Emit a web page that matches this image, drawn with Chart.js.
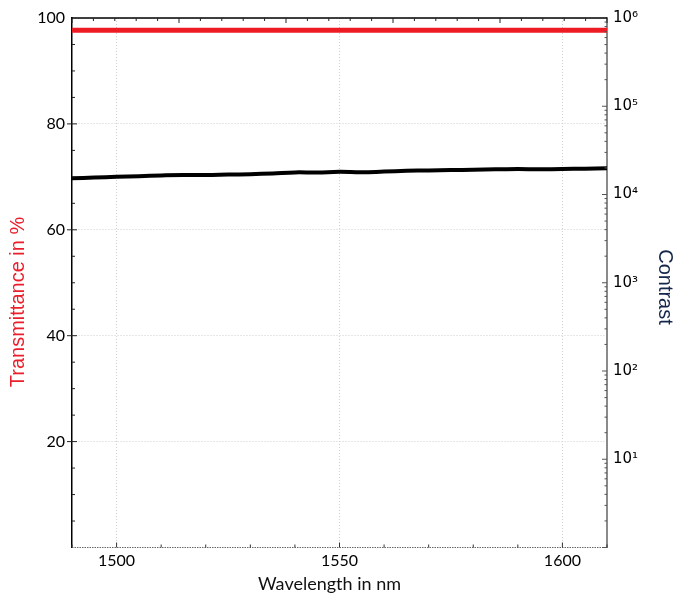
<!DOCTYPE html>
<html><head><meta charset="utf-8">
<script src="https://cdn.jsdelivr.net/npm/chart.js@4"></script>
<style>html,body{margin:0;padding:0;background:#fff;} canvas{display:block}</style>
</head><body>
<canvas id="c" width="674" height="593" style="width:674px;height:593px"></canvas>
<script>
const wavelength = [1490,1495,1500,1505,1510,1515,1520,1525,1530,1535,1540,1545,1550,1555,1560,1565,1570,1575,1580,1585,1590,1595,1600,1605,1610];
const transmittance = [97.7,97.7,97.7,97.7,97.7,97.7,97.7,97.7,97.7,97.7,97.7,97.7,97.7,97.7,97.7,97.7,97.7,97.7,97.7,97.7,97.7,97.7,97.7,97.7,97.7];
const contrast = [15260,15550,15900,16150,16450,16650,16600,16800,17000,17350,17800,17750,18050,17850,18200,18550,18750,18900,19100,19300,19400,19350,19450,19600,19820];
const xTicks = [1500,1550,1600];
const yTicks = [20,40,60,80,100];
const y1Ticks = [10,100,1000,10000,100000,1000000];
const supDigits = ['⁰','¹','²','³','⁴','⁵','⁶'];

const FONT = 'Lato, "Open Sans", sans-serif';
const TFONT = '"Liberation Sans", Arial, sans-serif';

const deco = {
  id: 'deco',
  afterDraw(chart) {
    const {ctx, chartArea: a, scales} = chart;
    const sx = scales.x, sy = scales.y, sy1 = scales.y1;
    ctx.save();
    // top border
    ctx.strokeStyle = '#000'; ctx.lineWidth = 1.5;
    ctx.beginPath(); ctx.moveTo(a.left - 0.7, a.top); ctx.lineTo(a.right, a.top); ctx.stroke();
    // bottom dotted border
    ctx.strokeStyle = '#666'; ctx.lineWidth = 1.2; ctx.setLineDash([1.5, 1]);
    ctx.beginPath(); ctx.moveTo(a.left, a.bottom); ctx.lineTo(a.right, a.bottom); ctx.stroke();
    ctx.setLineDash([]);
    // bottom ticks
    ctx.strokeStyle = '#333'; ctx.lineWidth = 1;
    for (let v = 1490; v <= 1610; v += 10) {
      const px = sx.getPixelForValue(v);
      const len = xTicks.includes(v) ? 5 : 3;
      ctx.beginPath(); ctx.moveTo(px, a.bottom); ctx.lineTo(px, a.bottom - len); ctx.stroke();
    }
    // top ticks
    ctx.strokeStyle = '#222';
    for (let k = 0; k <= 25; k++) {
      const v = 1490 + k * 4.8;
      if (v > 1610) break;
      const px = sx.getPixelForValue(v);
      const len = (k % 5 === 0) ? 5 : 3;
      ctx.beginPath(); ctx.moveTo(px, a.top); ctx.lineTo(px, a.top + len); ctx.stroke();
    }
    // left ticks
    ctx.strokeStyle = '#222';
    for (let v = 5; v < 100; v += 5) {
      const py = sy.getPixelForValue(v);
      if (yTicks.includes(v)) {
        ctx.beginPath(); ctx.moveTo(a.left - 5, py); ctx.lineTo(a.left + 5, py); ctx.stroke();
      } else {
        ctx.beginPath(); ctx.moveTo(a.left, py); ctx.lineTo(a.left + 3, py); ctx.stroke();
      }
    }
    // right ticks (log)
    ctx.strokeStyle = '#555';
    for (let e = 0; e < 6; e++) {
      for (let m = 1; m <= 9; m++) {
        const v = m * Math.pow(10, e);
        const py = sy1.getPixelForValue(v);
        const len = m === 1 ? 5 : 2.5;
        ctx.beginPath(); ctx.moveTo(a.right, py); ctx.lineTo(a.right - len, py); ctx.stroke();
      }
    }
    // titles
    ctx.fillStyle = '#111';
    ctx.font = '18px ' + FONT;
    ctx.textAlign = 'center'; ctx.textBaseline = 'alphabetic';
    ctx.fillText('Wavelength in nm', 329.5, 590);

    ctx.save();
    ctx.translate(18, 302); ctx.rotate(-Math.PI / 2);
    ctx.fillStyle = '#ea1f2b'; ctx.font = '20px ' + TFONT;
    ctx.textAlign = 'center'; ctx.textBaseline = 'middle';
    ctx.fillText('Transmittance in %', 0, 0);
    ctx.restore();

    ctx.save();
    ctx.translate(664.5, 287); ctx.rotate(Math.PI / 2);
    ctx.fillStyle = '#14264a'; ctx.font = '20px ' + TFONT;
    ctx.textAlign = 'center'; ctx.textBaseline = 'middle';
    ctx.fillText('Contrast', 0, 0);
    ctx.restore();

    ctx.restore();
  }
};

new Chart(document.getElementById('c'), {
  type: 'line',
  data: {
    labels: wavelength,
    datasets: [
      {
        label: 'Transmittance',
        data: wavelength.map((w, i) => ({x: w, y: transmittance[i]})),
        yAxisID: 'y',
        borderColor: '#ed1c24',
        borderWidth: 5,
        pointRadius: 0,
        borderCapStyle: 'round'
      },
      {
        label: 'Contrast',
        data: wavelength.map((w, i) => ({x: w, y: contrast[i]})),
        yAxisID: 'y1',
        borderColor: '#000',
        borderWidth: 4,
        pointRadius: 0,
        tension: 0.4,
        borderCapStyle: 'round'
      }
    ]
  },
  options: {
    responsive: false,
    animation: false,
    layout: {padding: {top: 18, left: 0, right: 0, bottom: 0}},
    plugins: {legend: {display: false}, tooltip: {enabled: false}},
    scales: {
      x: {
        type: 'linear',
        min: 1490, max: 1610,
        afterBuildTicks: s => { s.ticks = xTicks.map(v => ({value: v})); },
        afterFit: s => { s.height = 45.5; },
        grid: {color: '#cfcfcf', lineWidth: 1, drawTicks: false},
        border: {display: false, dash: [1, 2]},
        ticks: {font: {family: FONT, size: 16}, color: '#000', padding: 4, maxRotation: 0,
          callback: v => String(v)}
      },
      y: {
        type: 'linear', position: 'left',
        min: 0, max: 100,
        afterBuildTicks: s => { s.ticks = yTicks.map(v => ({value: v})); },
        afterFit: s => { s.width = 72; },
        grid: {color: '#cfcfcf', lineWidth: 1, drawTicks: false},
        border: {display: true, color: '#000', width: 1.5, dash: [1, 2]},
        ticks: {font: {family: FONT, size: 16}, color: '#000', padding: 7, callback: v => String(v)}
      },
      y1: {
        type: 'logarithmic', position: 'right',
        min: 1, max: 1000000,
        afterBuildTicks: s => { s.ticks = y1Ticks.map(v => ({value: v})); },
        afterFit: s => { s.width = 67; },
        grid: {drawOnChartArea: false, drawTicks: false},
        border: {display: true, color: '#8a8a8a', width: 2},
        ticks: {
          font: {family: '"DejaVu Sans", sans-serif', size: 15}, color: '#000', padding: 6,
          callback: v => '10' + supDigits[Math.round(Math.log10(v))]
        }
      }
    }
  },
  plugins: [deco]
});
</script>
</body></html>
